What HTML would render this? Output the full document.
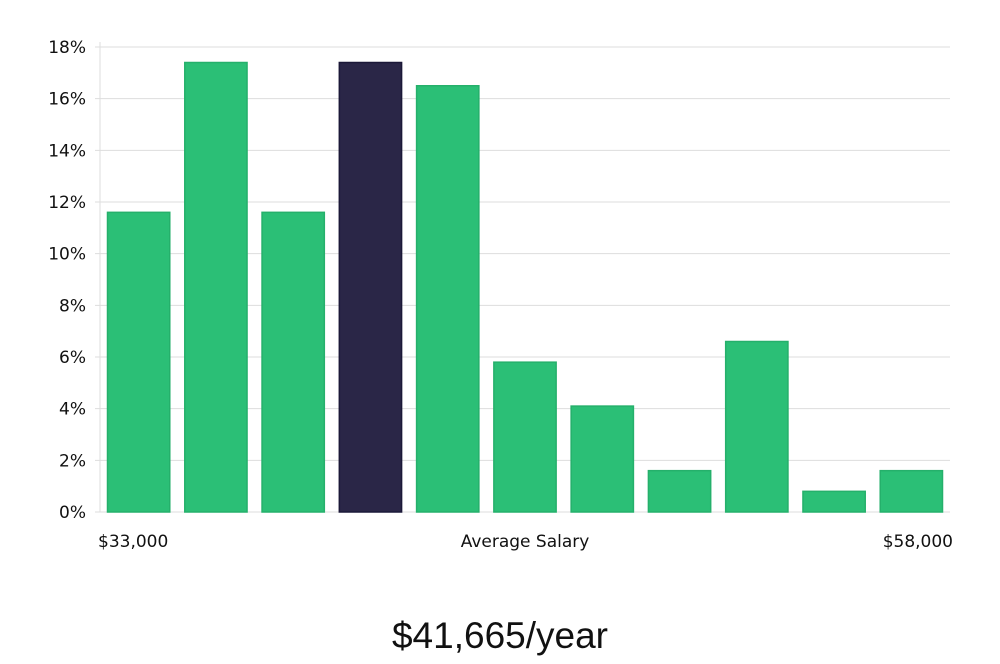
<!DOCTYPE html>
<html><head><meta charset="utf-8"><style>
body{margin:0;background:#fff;width:1000px;height:660px;overflow:hidden;font-family:"DejaVu Sans","Liberation Sans",sans-serif;}
</style></head><body>
<svg id="chart" width="1000" height="660" xmlns="http://www.w3.org/2000/svg"></svg>
<script>
const categories=["b1","b2","b3","b4","b5","b6","b7","b8","b9","b10","b11"];
const values=[11.6,17.4,11.6,17.4,16.5,5.8,4.1,1.6,6.6,0.8,1.6];
const highlightIndex=3;
const yTicks=[0,2,4,6,8,10,12,14,16,18];
const xLabels=["$33,000","Average Salary","$58,000"];
const title="$41,665/year";
const svg=document.getElementById('chart');
const NS="http://www.w3.org/2000/svg";
const L=100,R=950,T=47,B=512,yMax=18;
const y=v=>B-(v/yMax)*(B-T);
const slot=(R-L)/categories.length;
const x=i=>L+i*slot;
function mk(tag,attrs,parent){const e=document.createElementNS(NS,tag);for(const k in attrs)e.setAttribute(k,attrs[k]);(parent||svg).appendChild(e);return e;}
yTicks.forEach(t=>{
  const g=mk('line',{x1:L-5,x2:R,y1:y(t),y2:y(t),stroke:'#dddddd','stroke-width':1});
  
  
  const tx=mk('text',{x:L-14,y:y(t)+6,'text-anchor':'end','font-size':17,fill:'#111'});
  tx.textContent=t+'%';
  
  
});
const ax=mk('line',{x1:L,x2:L,y1:T-5,y2:B,stroke:'#dddddd'});


values.forEach((v,i)=>{
  const hi=i===highlightIndex;
  const r=mk('rect',{x:x(i)+7.5,y:y(v),width:slot-15,height:B-y(v),fill:hi?'#2a2647':'#2bbf76',stroke:hi?'#1b1838':'#25b06b','stroke-width':1.5});
  
  
});
const xl=[[L-2,'start'],[(L+R)/2,'middle'],[R+3,'end']];
xLabels.forEach((s,i)=>{
  const t=mk('text',{x:xl[i][0],y:547,'text-anchor':xl[i][1],'font-size':17,fill:'#111'});
  t.textContent=s;
  
  
});
const tt=mk('text',{x:500,y:648,'text-anchor':'middle','font-size':37,fill:'#111','font-family':'"Liberation Sans",sans-serif','font-weight':300});
tt.textContent=title;


</script>
</body></html>
